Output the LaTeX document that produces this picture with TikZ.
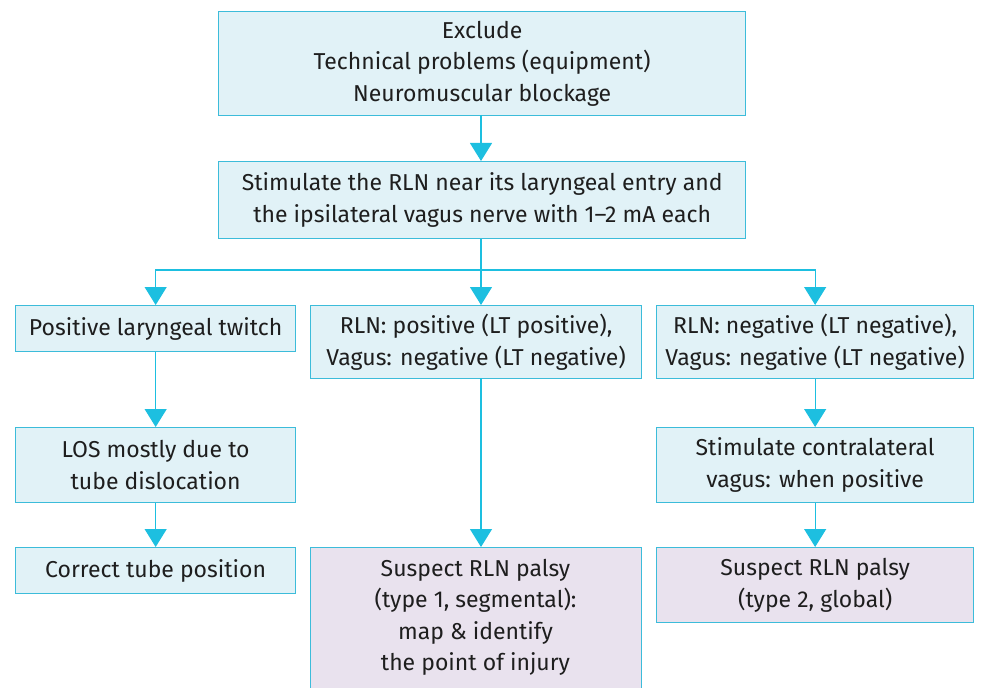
\documentclass[tikz,border=0pt]{standalone}
\usepackage{fontspec}
\setmainfont{Fira Sans}
\usetikzlibrary{arrows.meta}
\definecolor{bfill}{HTML}{E1F2F7}
\definecolor{bdraw}{HTML}{3CBCDA}
\definecolor{arrc}{HTML}{1DBFE0}
\definecolor{pfill}{HTML}{E9E2EE}
\definecolor{txt}{HTML}{1E1E1E}
\begin{document}
\begin{tikzpicture}[x=1pt,y=-1pt,
  box/.style={draw=bdraw,fill=bfill,line width=1.3pt,inner sep=0pt,align=center,
    text=txt,font=\fontsize{23}{31.5}\selectfont,anchor=north west},
  pbox/.style={box,fill=pfill},
  arr/.style={draw=arrc,line width=1.2pt,-{Triangle[width=22pt,length=18pt]}},
  ln/.style={draw=arrc,line width=1.2pt}]
\useasboundingbox (0,0) rectangle (981,687);
\node[box,minimum width=527pt,minimum height=104pt] (b1) at (218,11)
  {Exclude\\Technical problems (equipment)\\Neuromuscular blockage};
\node[box,minimum width=527pt,minimum height=77pt] (b2) at (218,161)
  {Stimulate the RLN near its laryngeal entry and\\the ipsilateral vagus nerve with 1--2 mA each};
\node[box,minimum width=280pt,minimum height=46pt] (l3) at (15,305)
  {Positive laryngeal twitch};
\node[box,minimum width=331pt,minimum height=73pt] (m3) at (310,305)
  {RLN: positive (LT positive),\\Vagus: negative (LT negative)};
\node[box,minimum width=317pt,minimum height=73pt] (r3) at (656,305)
  {RLN: negative (LT negative),\\Vagus: negative (LT negative)};
\node[box,minimum width=280pt,minimum height=75pt] (l4) at (15,427)
  {LOS mostly due to\\tube dislocation};
\node[box,minimum width=317pt,minimum height=75pt] (r4) at (656,427)
  {Stimulate contralateral\\vagus: when positive};
\node[box,minimum width=280pt,minimum height=46pt] (l5) at (15,547)
  {Correct tube position};
\node[pbox,minimum width=331pt,minimum height=150pt,anchor=north west] (m5) at (310,547) {};
\node[align=center,text=txt,font=\fontsize{23}{31.5}\selectfont,anchor=north,inner sep=0pt] (m5t) at (475.5,559)
  {Suspect RLN palsy\\(type 1, segmental):\\map \& identify\\the point of injury};
\node[pbox,minimum width=317pt,minimum height=75pt] (r5) at (656,547)
  {Suspect RLN palsy\\(type 2, global)};
\coordinate (top) at (481,115);
\coordinate (j) at (481,270);
\coordinate (mtop) at (481,378);
\draw[arr] (top) -- (top |- b2.north);
\draw[ln] (top |- b2.south) -- (j);
\draw[arr] (j) -- (j |- m3.north);
\draw[arr] (j) -| (l3.north);
\draw[arr] (j) -| (r3.north);
\draw[arr] (l3.south) -- (l4.north);
\draw[arr] (l4.south) -- (l5.north);
\draw[arr] (mtop) -- (mtop |- m5.north);
\draw[arr] (r3.south) -- (r4.north);
\draw[arr] (r4.south) -- (r5.north);
\end{tikzpicture}
\end{document}
